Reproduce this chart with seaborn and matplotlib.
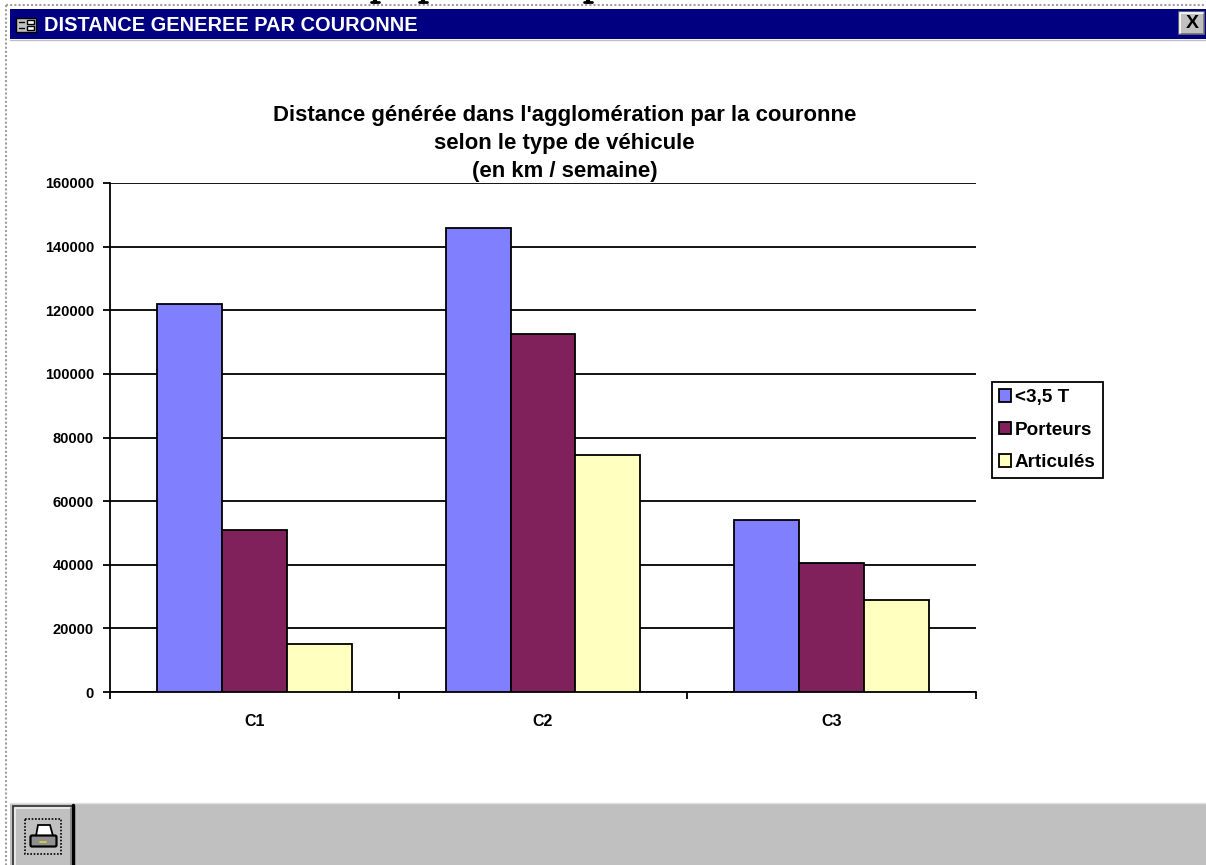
import seaborn as sns
import matplotlib.pyplot as plt
import matplotlib.patches as mpatches
import pandas as pd

# --- Donnees ---
couronnes = ['C1', 'C2', 'C3']
types_vehicule = ['<3,5 T', 'Porteurs', 'Articulés']
leger = [122000, 146000, 54000]
porteurs = [51000, 112500, 40500]
articules = [15000, 74500, 29000]
graduations = [0, 20000, 40000, 60000, 80000, 100000, 120000, 140000, 160000]
couleurs = ['#8080FF', '#80215C', '#FFFFC0']

df = pd.DataFrame({
    'Couronne': couronnes * 3,
    'Type': [t for t in types_vehicule for _ in couronnes],
    'Distance': leger + porteurs + articules,
})

sns.set_theme(style="white")
plt.rcParams['font.family'] = ['Liberation Sans', 'DejaVu Sans']
plt.rcParams['font.weight'] = 'bold'

W, H = 1206, 865
fig = plt.figure(figsize=(W / 100, H / 100), dpi=100, facecolor='white')

# --- Graphique ---
ax = fig.add_axes([110 / W, 1 - 692 / H, 866 / W, 509 / H])
sns.barplot(data=df, x='Couronne', y='Distance', hue='Type', order=couronnes,
            hue_order=types_vehicule, palette=couleurs, width=0.675, gap=0,
            saturation=1, edgecolor='black', linewidth=1.3, ax=ax, zorder=3)
ax.set_xlim(-0.5, 2.5)
ax.set_ylim(0, 160000)
ax.set_yticks(graduations)
ax.set_yticklabels([str(g) for g in graduations], fontsize=10.5, fontweight='bold', color='black')
ax.set_xlabel('')
ax.set_ylabel('')
ax.set_xticks([0, 1, 2])
ax.set_xticklabels(couronnes, fontsize=11.5, fontweight='bold', color='black')
ax.grid(axis='y', color='black', linewidth=1.3, zorder=0)
ax.set_axisbelow(True)
for cote in ['top', 'right']:
    ax.spines[cote].set_visible(False)
for cote in ['left', 'bottom']:
    ax.spines[cote].set_color('black')
    ax.spines[cote].set_linewidth(1.3)
# graduations : tirets sur l'axe y, separations de groupes sur l'axe x
ax.tick_params(axis='y', length=5, width=1.3, color='black', left=True, pad=6.5)
ax.tick_params(axis='x', length=0, pad=16)
ax.set_xticks([-0.5, 0.5, 1.5, 2.5], minor=True)
ax.tick_params(axis='x', which='minor', length=5, width=1.3, color='black', bottom=True)

# --- Legende ---
ax.get_legend().remove()
poignees = [mpatches.Patch(facecolor=c, edgecolor='black', linewidth=1.3) for c in couleurs]
leg = fig.legend(poignees, types_vehicule, loc='upper left',
                 bbox_to_anchor=(992 / W, 1 - 382 / H), bbox_transform=fig.transFigure,
                 prop={'family': 'Liberation Sans', 'weight': 'bold', 'size': 13.6},
                 fancybox=False, framealpha=1, edgecolor='black', borderpad=0.38,
                 labelspacing=0.82, handlelength=0.62, handleheight=0.62, handletextpad=0.2,
                 borderaxespad=0)
leg.get_frame().set_linewidth(1.3)
for t in leg.get_texts():
    t.set_color('black')

# --- Fenetre (en pixels) ---
haut = fig.add_axes([0, 0, 1, 1], zorder=5)
haut.set_xlim(0, W)
haut.set_ylim(H, 0)
haut.axis('off')
haut.patch.set_alpha(0)

# bord pointille
haut.plot([6, 6], [5, H], color='#A0A0A0', linewidth=1.5, linestyle=(0, (1, 1)))
haut.plot([6, W], [5, 5], color='#A0A0A0', linewidth=1.5, linestyle=(0, (1, 1)))
# jambages du titre de page coupe en haut de l'image
for x in [375, 423, 588]:
    haut.plot([x - 4, x + 4], [1.5, 1.5], color='black', linewidth=2)
    haut.plot([x, x], [-1, 1.5], color='black', linewidth=3)
# barre de titre
haut.add_patch(mpatches.Rectangle((10, 9), W - 10, 30, facecolor='#000080', edgecolor='none'))
haut.plot([10, W], [39.5, 39.5], color='#C0C0C0', linewidth=1)
haut.text(44, 25.5, 'DISTANCE GENEREE PAR COURONNE', color='white', fontsize=14.4,
          fontweight='bold', va='center', ha='left', family='Liberation Sans')
# icone de la barre de titre
haut.add_patch(mpatches.Rectangle((16, 18), 20, 14, facecolor='#C0C0C0', edgecolor='black', linewidth=1))
haut.add_patch(mpatches.Rectangle((27, 20), 7, 4, facecolor='white', edgecolor='black', linewidth=1))
haut.add_patch(mpatches.Rectangle((27, 26), 7, 4, facecolor='white', edgecolor='black', linewidth=1))
haut.plot([19, 24], [22, 22], color='black', linewidth=1)
haut.plot([19, 24], [28, 28], color='black', linewidth=1)
# bouton fermer
haut.add_patch(mpatches.Rectangle((1179, 12), 25, 22, facecolor='#C0C0C0', edgecolor='#707070', linewidth=1.2))
haut.plot([1180, 1180], [13, 33], color='white', linewidth=1.2)
haut.plot([1180, 1203], [13, 13], color='white', linewidth=1.2)
haut.text(1192, 24, 'X', color='black', fontsize=14, ha='center', va='center',
          family='Liberation Sans', fontweight='bold')
# bas de fenetre
haut.add_patch(mpatches.Rectangle((10, 804), W - 10, H - 804, facecolor='#C0C0C0', edgecolor='none'))
haut.plot([10, W], [803, 803], color='#E0E0E0', linewidth=1)
# bouton imprimante
haut.add_patch(mpatches.Rectangle((13, 806), 60, H - 804, facecolor='#C0C0C0', edgecolor='#303030', linewidth=1.2))
haut.plot([14.5, 14.5, 70], [H, 807.5, 807.5], color='#F0F0F0', linewidth=1.2)
haut.plot([73, 73], [805, H], color='black', linewidth=2.5)
haut.plot([70.5, 70.5], [808, H], color='#808080', linewidth=1.2)
haut.add_patch(mpatches.Rectangle((25, 819), 36, 35, facecolor='none', edgecolor='black',
                                  linewidth=1.2, linestyle=(0, (1, 1))))
# imprimante
haut.add_patch(mpatches.Polygon([(38, 825), (50, 825), (53, 836), (36, 836)], facecolor='white',
                                edgecolor='black', linewidth=1.3))
haut.add_patch(mpatches.FancyBboxPatch((32, 837), 23, 8, boxstyle='round,pad=1.5', facecolor='#909090',
                                       edgecolor='black', linewidth=1.6))
haut.plot([40, 46], [842, 842], color='#E0D040', linewidth=1.2)

# --- Titre ---
titre = ["Distance générée dans l'agglomération par la couronne",
         'selon le type de véhicule', '(en km / semaine)']
for y, ligne in zip([115, 143, 171], titre):
    haut.text(564.5, y, ligne, color='black', fontsize=15.9, fontweight='bold',
              ha='center', va='center', family='Liberation Sans')

fig.savefig('out.png', dpi=100)
